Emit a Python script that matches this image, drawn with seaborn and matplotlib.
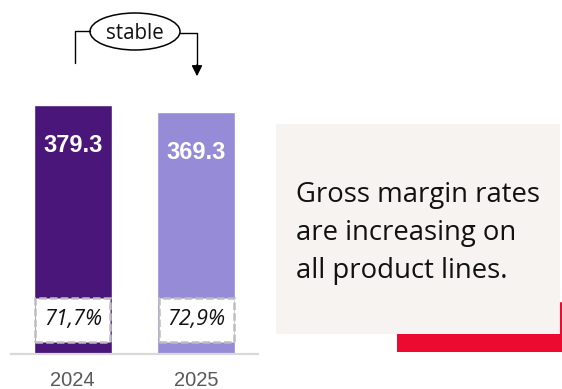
import matplotlib
matplotlib.use("Agg")
import matplotlib.pyplot as plt
from matplotlib.patches import Ellipse, Rectangle, FancyArrowPatch
import seaborn as sns
import pandas as pd

# Data
years = ["2024", "2025"]
revenue = [379.3, 369.3]
margin_rate = ["71,7%", "72,9%"]
bar_colors = ["#4A1679", "#968BD7"]
trend_label = "stable"
message_lines = ["Gross margin rates", "are increasing on", "all product lines."]

sns.set_theme(style="white")
plt.rcParams["font.family"] = ["Liberation Sans", "DejaVu Sans"]

W, H = 562, 389
fig = plt.figure(figsize=(W / 100, H / 100), dpi=100)

# Bar axes placed in pixel units
ax_left, ax_right, ax_base, ax_top = 11, 258, 354, 10
ax = fig.add_axes([ax_left / W, (H - ax_base) / H,
                   (ax_right - ax_left) / W, (ax_base - ax_top) / H])
ymax = 524.0
px = ymax / (ax_base - ax_top)  # data units per pixel

df = pd.DataFrame({"year": years, "revenue": revenue})
sns.barplot(data=df, x="year", y="revenue", hue="year", palette=bar_colors,
            width=0.63, legend=False, ax=ax, saturation=1)
ax.set_xlim(-0.5, 1.5)
ax.set_ylim(0, ymax)
ax.set_xlabel("")
ax.set_ylabel("")
ax.set_yticks([])
for s in ["top", "right", "left"]:
    ax.spines[s].set_visible(False)
ax.spines["bottom"].set_color("#D9D9D9")
ax.spines["bottom"].set_linewidth(1.6)
ax.tick_params(axis="x", length=0, pad=12, labelsize=14.5, labelcolor="#595959")

for i, (v, rate) in enumerate(zip(revenue, margin_rate)):
    ax.annotate(f"{v:.1f}", xy=(i, v), xytext=(0, -41), textcoords="offset pixels",
                ha="center", va="center", color="white", fontsize=17,
                fontweight="bold")
    bw = 75 / 123.5
    ax.add_patch(Rectangle((i - bw / 2, 12 * px), bw, 44 * px,
                           facecolor="white", edgecolor="#BDBDBD",
                           linestyle=(0, (3, 1.3)), linewidth=1.8, zorder=3))
    ax.text(i, 34 * px, rate, ha="center", va="center", fontsize=15.5,
            fontstyle="italic", color="#111111", zorder=4,
            family=["Open Sans", "DejaVu Sans"])

# Overlays in pixel coordinates for the message box and the trend annotation
ov = fig.add_axes([0, 0, 1, 1], zorder=-1)
ov.set_xlim(0, W)
ov.set_ylim(H, 0)
ov.axis("off")
ov.patch.set_alpha(0)

ov2 = fig.add_axes([0, 0, 1, 1])
ov2.set_xlim(0, W)
ov2.set_ylim(H, 0)
ov2.axis("off")
ov2.patch.set_alpha(0)

# Message box
ov.add_patch(Rectangle((276, 124), 284, 210, facecolor="#F6F3F0", edgecolor="none"))
ov.add_patch(Rectangle((397, 334), 165, 18, facecolor="#EC0A30", edgecolor="none"))
ov.plot([560.5, 560.5], [303, 334], color="#EC0A30", lw=1.5)
for k, line in enumerate(message_lines):
    ov.text(296, 202 + 38 * k, line, ha="left", va="baseline", fontsize=19.8,
            color="#111111", family=["Open Sans", "DejaVu Sans"])

# Trend annotation
ov2.add_patch(Ellipse((135, 31.5), 90, 37, facecolor="white", edgecolor="black", lw=1.1))
ov2.text(135, 33, trend_label, ha="center", va="center", fontsize=14.8,
         family=["Open Sans", "DejaVu Sans"], color="#111111")
ov2.plot([90, 75, 75], [31, 31, 63], color="black", lw=1.0)
ov2.plot([180, 197, 197], [33, 33, 66], color="black", lw=1.0)
ov2.add_patch(FancyArrowPatch((197, 62), (197, 79), arrowstyle="-|>",
                              mutation_scale=16, color="black", lw=1.0))

fig.savefig("out.png", dpi=100)
